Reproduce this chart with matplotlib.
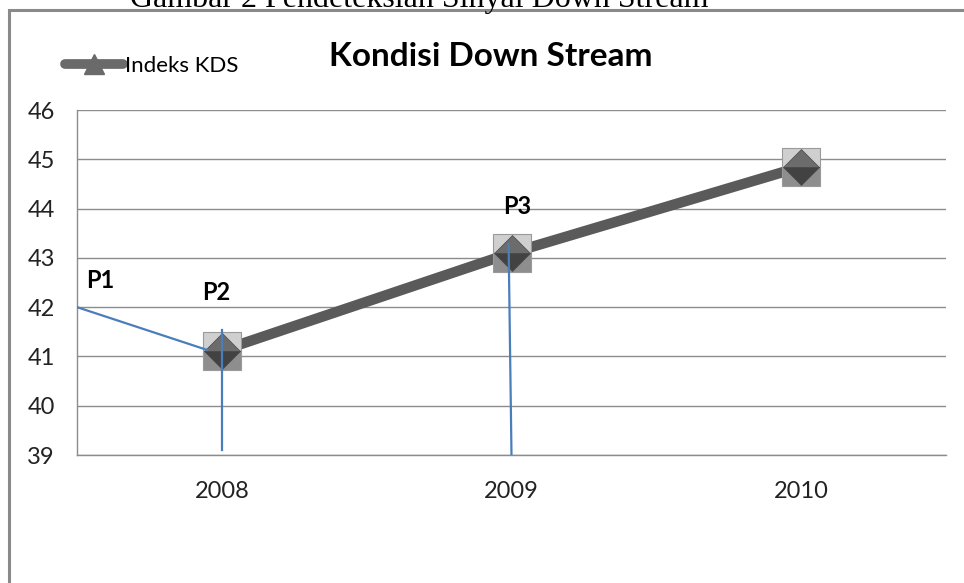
import matplotlib.pyplot as plt
from matplotlib.lines import Line2D
from matplotlib.patches import Rectangle

plt.rcParams['font.family'] = ['Lato', 'DejaVu Sans']

# data
years = ['2008', '2009', '2010']
kds = [41.12, 43.1, 44.85]

# hand drawn helper lines (data coords, category index on x)
p1_x = [-0.5, -0.05]
p1_y = [42.0, 41.13]
p2_x = [0.0, 0.0]
p2_y = [41.53, 39.1]
p3_x = [0.99, 1.0]
p3_y = [43.28, 39.0]

labels = ['P1', 'P2', 'P3']
label_x = [-0.42, -0.02, 1.02]
label_y = [42.55, 42.3, 44.05]

fig = plt.figure(figsize=(9.64, 5.83), dpi=100)

# caption cut off at top of the page
fig.text(130 / 964, 1 - 7 / 583, 'Gambar 2 Pendeteksian Sinyal Down Stream',
         family='Liberation Serif', fontsize=23, va='baseline', ha='left')

# outer chart border
fig.patches.append(Rectangle((9 / 964, -0.1), 1.2, 1 - 10 / 583 + 0.1,
                             transform=fig.transFigure, fill=False,
                             edgecolor='#8a8a8a', linewidth=2.2))

ax = fig.add_axes([77 / 964, 1 - 455 / 583, (946 - 77) / 964, 345 / 583])
x = list(range(len(years)))

ax.plot(x, kds, color='#5a5a5a', linewidth=7.5, solid_capstyle='round', zorder=3)
ax.plot(x, kds, linestyle='none', marker='s', markersize=27,
        fillstyle='top', markerfacecolor='#cfcfcf', markerfacecoloralt='#8e8e8e',
        markeredgecolor='#9a9a9a', markeredgewidth=0.8, zorder=4)
ax.plot(x, kds, linestyle='none', marker='D', markersize=18.5,
        fillstyle='top', markerfacecolor='#6c6c6c', markerfacecoloralt='#424242',
        markeredgecolor='#4a4a4a', markeredgewidth=0.5, zorder=5)

blue = '#4a7ebb'
ax.plot(p1_x, p1_y, color=blue, linewidth=1.6, zorder=6)
ax.plot(p2_x, p2_y, color=blue, linewidth=1.6, zorder=6)
ax.plot(p3_x, p3_y, color=blue, linewidth=1.6, zorder=6)

for lab, lx, ly in zip(labels, label_x, label_y):
    ax.text(lx, ly, lab, fontsize=17, fontweight='bold', ha='center', va='center', zorder=7)

ax.set_xlim(-0.5, 2.5)
ax.set_ylim(39, 46)
ax.set_yticks(range(39, 47))
ax.set_xticks(x)
ax.set_xticklabels(years)
ax.tick_params(axis='both', length=0, labelsize=17, colors='#222222')
ax.tick_params(axis='y', pad=16)
ax.tick_params(axis='x', pad=19)
ax.grid(axis='y', color='#8c8c8c', linewidth=1)
ax.set_axisbelow(True)
for side in ['top', 'right']:
    ax.spines[side].set_visible(False)
for side in ['left', 'bottom']:
    ax.spines[side].set_color('#8c8c8c')
    ax.spines[side].set_linewidth(1)

fig.text(491 / 964, 1 - 57 / 583, 'Kondisi Down Stream', fontsize=24,
         fontweight='bold', ha='center', va='center')

# legend
handle = Line2D([], [], color='#6a6a6a', linewidth=7, marker='^', markersize=15,
                markerfacecolor='#6a6a6a', markeredgecolor='#6a6a6a',
                solid_capstyle='round')
fig.legend([handle], ['Indeks KDS'], loc='center left',
           bbox_to_anchor=(54 / 964, 1 - 66 / 583), frameon=False, fontsize=16,
           handlelength=2.6, handletextpad=0.08, borderpad=0)

fig.savefig('out.png', dpi=100)
